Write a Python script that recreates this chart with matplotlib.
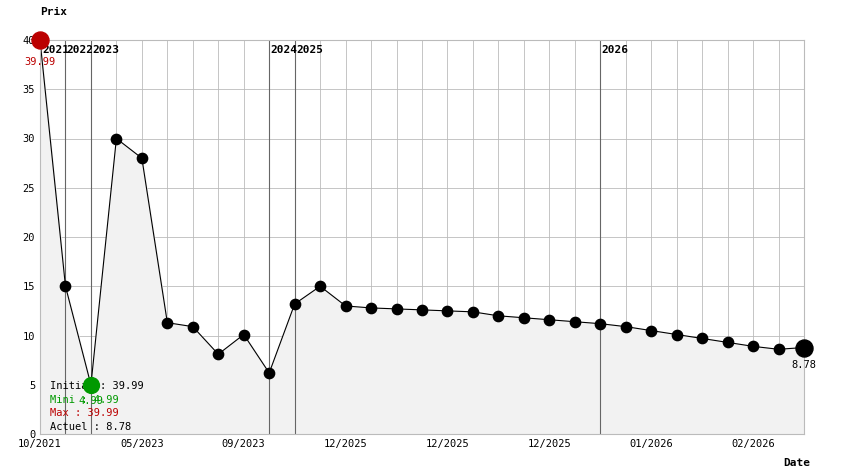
import matplotlib.pyplot as plt

prices = [39.99, 15.0, 4.99, 30.0, 28.0, 11.3, 10.9, 8.1, 10.1, 6.2, 13.2, 15.0,
          13.0, 12.8, 12.7, 12.6, 12.5, 12.4, 12.0, 11.8, 11.6, 11.4, 11.2, 10.9,
          10.5, 10.1, 9.7, 9.3, 8.9, 8.6, 8.78]
tick_idx = [0, 4, 8, 12, 16, 20, 24, 28]
tick_labels = ['10/2021', '05/2023', '09/2023', '12/2025', '12/2025',
               '12/2025', '01/2026', '02/2026']
year_idx = [1, 2, 9, 10, 22]
year_labels = ['2022', '2023', '2024', '2025', '2026']

mono = 'DejaVu Sans Mono'
fig = plt.figure(figsize=(8.44, 4.74), dpi=100)
ax = fig.add_axes([40/844, 1-434/474, 764/844, 394/474])
x = list(range(len(prices)))

ax.set_xlim(0, len(prices) - 1)
ax.set_ylim(0, 40)
ax.set_yticks(range(0, 41, 5))
ax.set_xticks(x, minor=True)
ax.set_xticks(tick_idx)
ax.set_xticklabels(tick_labels, family=mono, fontsize=7.5)
for lab in ax.get_yticklabels():
    lab.set_family(mono)
    lab.set_fontsize(7.5)
ax.grid(True, which='both', color='#bbbbbb', lw=0.6)
ax.set_axisbelow(True)
ax.tick_params(length=0, which='both')
for s in ax.spines.values():
    s.set_color('#bbbbbb')

ax.fill_between(x, prices, color='#f2f2f2', zorder=1)
ax.plot(x, prices, color='black', lw=0.8, zorder=2)
ax.scatter(x[1:-1], prices[1:-1], s=55, color='black', zorder=3)
ax.scatter([0], [prices[0]], s=150, color='#bb0000', zorder=4, clip_on=False)
ax.scatter([2], [prices[2]], s=130, color='#009900', zorder=4)
ax.scatter([x[-1]], [prices[-1]], s=150, color='black', zorder=4, clip_on=False)

for i, lab in zip(year_idx, year_labels):
    ax.axvline(i, color='#666666', lw=0.8, zorder=1.5)
    ax.text(i + 0.05, 39, lab, family=mono, fontsize=8, fontweight='bold', va='center')
ax.text(0.1, 39, '2021', family=mono, fontsize=8, fontweight='bold', va='center')

ax.text(0, 38.3, '39.99', color='#bb0000', family=mono, fontsize=7.5, ha='center', va='top')
ax.text(2, 3.9, '4.99', color='#009900', family=mono, fontsize=7.5, ha='center', va='top')
ax.text(x[-1], 7.5, '8.78', color='black', family=mono, fontsize=7.5, ha='center', va='top')

ax.text(0.4, 4.9, 'Initial : 39.99', family=mono, fontsize=7.5, va='center')
ax.text(0.4, 3.5, 'Mini : 4.99', color='#009900', family=mono, fontsize=7.5, va='center')
ax.text(0.4, 2.1, 'Max : 39.99', color='#bb0000', family=mono, fontsize=7.5, va='center')
ax.text(0.4, 0.7, 'Actuel : 8.78', family=mono, fontsize=7.5, va='center')

fig.text(40/844, 1-12/474, 'Prix', family=mono, fontsize=8, fontweight='bold', va='center')
fig.text(783/844, 1-463/474, 'Date', family=mono, fontsize=8, fontweight='bold', va='center')

fig.savefig('out.png', dpi=100)
